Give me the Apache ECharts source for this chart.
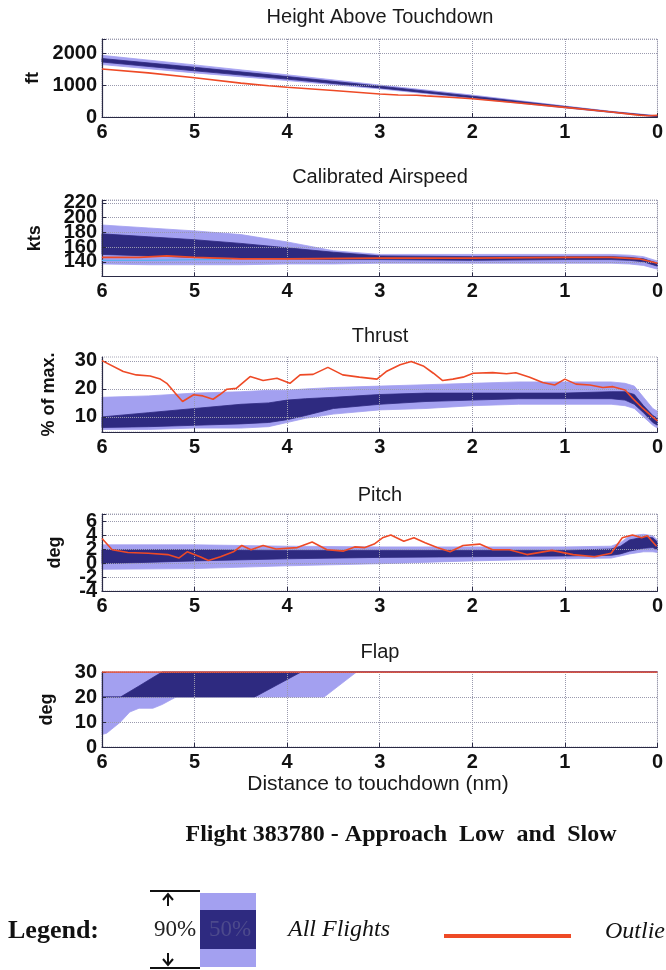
<!DOCTYPE html>
<html><head><meta charset="utf-8">
<script src="https://cdn.jsdelivr.net/npm/echarts@6/dist/echarts.min.js"></script>
<style>html,body{margin:0;padding:0;background:#fff}#c{width:666px;height:970px}</style>
</head><body><div id="c"></div>
<script>
// ---------- data ----------
const xTicks = [6, 5, 4, 3, 2, 1, 0];
const panelTitles = ['Height Above Touchdown', 'Calibrated Airspeed', 'Thrust', 'Pitch', 'Flap'];
const yNames = ['ft', 'kts', '% of max.', 'deg', 'deg'];
const yTickLabels = [[0, 1000, 2000], [140, 160, 180, 200, 220], [10, 20, 30], [-2, 0, 2, 4, 6], [0, 10, 20, 30]];
const pitchExtraLabels = [-4];

// Height Above Touchdown (ft)
const hX    = [6, 5, 4, 3, 2, 1, 0.5, 0];
const h90lo = [1640, 1380, 1140, 880, 580, 285, 140, 0];
const h90hi = [1930, 1630, 1320, 1000, 685, 345, 178, 40];
const h50lo = [1720, 1445, 1185, 910, 605, 300, 150, 10];
const h50hi = [1830, 1555, 1265, 965, 652, 328, 166, 30];
const hOutX = [6, 5.5, 5, 4.5, 4.2, 4, 3.5, 3, 2.8, 2.6, 2.5, 2.2, 2, 1.5, 1, 0.5, 0.2, 0.1, 0];
const hOut  = [1500, 1380, 1230, 1060, 980, 930, 830, 720, 690, 680, 660, 610, 570, 440, 300, 155, 60, 40, 50];

// Calibrated Airspeed (kts)
const aX    = [6, 5.5, 5, 4.5, 4, 3.5, 3, 2, 1, 0.5, 0.3, 0.15, 0];
const a90lo = [137, 136, 136, 136, 137, 137, 138, 138, 138, 138, 137, 135, 130];
const a90hi = [190, 186, 182, 177, 167, 155, 150, 150, 150, 150, 149, 147, 141];
const a50lo = [150, 148, 146, 145, 144, 143, 143, 142, 143, 143, 142, 140, 134];
const a50hi = [178, 174, 170, 165, 159, 153, 148, 147, 147, 147, 146, 144, 138];
const aOutX = [6, 5.6, 5.3, 5, 4.5, 4, 3, 2, 1, 0.5, 0.2, 0];
const aOut  = [146, 146, 148, 146, 144, 144, 145, 145, 146, 146, 144, 138];
const aCyanX = [6, 5.5, 5, 4.6];
const aCyan  = [142, 142, 143, 143];

// Thrust (% of max.)
const tX    = [6, 5.5, 5, 4.5, 4.2, 4, 3.8, 3.5, 3, 2.5, 2, 1.5, 1, 0.5, 0.35, 0.25, 0.15, 0.05, 0];
const t90lo = [5.5, 5.5, 6, 6, 6.5, 8, 9.5, 11, 12.5, 13, 14, 14.5, 14.5, 14.5, 14, 13, 10, 7, 6];
const t90hi = [17, 17.5, 18.5, 19, 19.5, 19.5, 20, 20.5, 21, 21.5, 22, 22.5, 22.5, 22.5, 22, 21, 17, 13, 12];
const t50lo = [6.2, 6.5, 7, 7.5, 8, 9, 10.5, 13, 14.5, 15.5, 16, 16.5, 16.5, 16.5, 16, 14.5, 11.5, 8, 7];
const t50hi = [10, 11.5, 13, 14.5, 15, 16, 16.5, 17, 18, 18.5, 18.5, 18.5, 18.5, 19, 19, 18, 14, 10.5, 9.5];
const tOutX = [6.0, 5.77, 5.63, 5.48, 5.37, 5.30, 5.21, 5.13, 5.01, 4.91, 4.80, 4.73, 4.65, 4.55, 4.40, 4.26, 4.11, 3.97, 3.86, 3.72, 3.56, 3.40, 3.22, 3.03, 2.93, 2.78, 2.66, 2.53, 2.42, 2.32, 2.21, 2.10, 1.99, 1.78, 1.63, 1.53, 1.38, 1.24, 1.11, 1.00, 0.88, 0.73, 0.59, 0.48, 0.35, 0.27, 0.16, 0.05, 0.0];
const tOut  = [30.1, 26.2, 25.0, 24.6, 23.5, 22.0, 18.5, 15.5, 17.9, 17.5, 16.3, 17.9, 19.9, 20.2, 24.4, 23.0, 23.8, 22.0, 25.0, 25.2, 27.7, 25.0, 24.2, 23.5, 26.2, 28.6, 29.8, 28.2, 25.6, 23.0, 23.5, 24.2, 25.6, 25.8, 25.4, 25.8, 24.2, 22.3, 21.4, 23.5, 21.7, 21.4, 20.5, 20.8, 19.6, 16.7, 13.1, 9.9, 8.6];

// Pitch (deg)
const pX    = [6, 5, 4, 3, 2, 1, 0.5, 0.4, 0.3, 0.15, 0.05, 0];
const p90lo = [-0.9, -0.8, -0.4, -0.1, 0.3, 0.6, 0.7, 1.0, 1.3, 1.6, 1.6, 1.5];
const p90hi = [2.6, 2.6, 2.4, 2.3, 2.3, 2.3, 2.4, 2.9, 3.9, 4.1, 3.9, 3.3];
const p50lo = [-0.1, 0.3, 0.6, 0.8, 0.9, 1.0, 1.1, 1.3, 1.7, 2.1, 2.2, 1.9];
const p50hi = [1.9, 1.9, 1.8, 1.8, 1.8, 1.8, 2.0, 2.4, 3.3, 3.7, 3.6, 3.0];
const pOutX = [6.0, 5.89, 5.72, 5.50, 5.29, 5.17, 5.08, 4.94, 4.85, 4.72, 4.58, 4.49, 4.39, 4.26, 4.12, 3.89, 3.73, 3.57, 3.39, 3.27, 3.16, 3.06, 2.97, 2.88, 2.74, 2.63, 2.51, 2.38, 2.24, 2.10, 1.92, 1.78, 1.60, 1.41, 1.14, 0.91, 0.68, 0.50, 0.38, 0.27, 0.17, 0.11, 0.01];
const pOut  = [3.5, 1.9, 1.5, 1.4, 1.2, 0.7, 1.6, 0.9, 0.35, 0.9, 1.6, 2.5, 1.9, 2.5, 2.0, 2.2, 3.0, 1.9, 1.7, 2.3, 2.2, 2.7, 3.6, 4.0, 3.1, 3.6, 2.9, 2.2, 1.6, 2.5, 2.7, 1.9, 1.9, 1.2, 1.8, 1.2, 0.9, 1.4, 3.6, 4.0, 3.6, 3.9, 2.4];

// Flap (deg)
const fX    = [6, 5.95, 5.9, 5.8, 5.7, 5.6, 5.45, 5.35, 5.25, 5.2, 4.35, 3.85, 3.6, 3.25, 0];
const f90lo = [5, 5.5, 7, 10, 14, 15.5, 15.5, 17, 19, 20, 20, 20, 20, 30, 30];
const f90hi = [30, 30, 30, 30, 30, 30, 30, 30, 30, 30, 30, 30, 30, 30, 30];
const f50lo = [20, 20, 20, 20, 20, 20, 20, 20, 20, 20, 20, 30, 30, 30, 30];
const f50hi = [20, 20, 20, 20, 22.2, 24.4, 27.8, 30, 30, 30, 30, 30, 30, 30, 30];
const fOutX = [6, 0];
const fOut  = [30, 30];

// ---------- layout / style ----------
const LIGHT = '#a3a0f0', DARK = '#2e2a80', RED = '#ee4a26', AX = '#2a2a45';
const SANS = 'Liberation Sans', SERIF = 'Liberation Serif';
const gridBoxes = [
  {top: 39, height: 78}, {top: 200, height: 76.5}, {top: 357, height: 75},
  {top: 514, height: 77}, {top: 672, height: 75}
];
const yRanges = [
  {min: 0, max: 2440, interval: 1000},
  {min: 120, max: 224, interval: 20},
  {min: 4.6, max: 31.4, custom: true},
  {min: -4, max: 7, interval: 2},
  {min: 0, max: 30, interval: 10}
];
const nameGaps = [60, 58, 44, 38, 46];
const titleY = [17, 177, 336, 495, 652];

const bands = [
  [hX, h90lo, h90hi, h50lo, h50hi],
  [aX, a90lo, a90hi, a50lo, a50hi],
  [tX, t90lo, t90hi, t50lo, t50hi],
  [pX, p90lo, p90hi, p50lo, p50hi],
  [fX, f90lo, f90hi, f50lo, f50hi]
];
const outliers = [[hOutX, hOut], [aOutX, aOut], [tOutX, tOut], [pOutX, pOut], [fOutX, fOut]];

function pairs(xs, ys) { return xs.map((x, i) => [x, ys[i]]); }

function bandSeries(gi, xs, lo, hi, color, z) {
  return {
    type: 'custom', xAxisIndex: gi, yAxisIndex: gi, z: z, silent: true,
    data: [[xs[0], lo[0]]],
    renderItem: function (params, api) {
      const pts = [];
      for (let i = 0; i < xs.length; i++) pts.push(api.coord([xs[i], hi[i]]));
      for (let i = xs.length - 1; i >= 0; i--) pts.push(api.coord([xs[i], lo[i]]));
      return {type: 'polygon', shape: {points: pts}, style: {fill: color, stroke: color, lineWidth: 0.8}};
    }
  };
}

const labelStyle = {color: '#111', fontFamily: SANS, fontSize: 20, fontWeight: 'bold', margin: 5};
const grid = [], xAxis = [], yAxis = [], series = [];
gridBoxes.forEach((g, i) => {
  grid.push({left: 102, right: 8, top: g.top, height: g.height, show: true,
    borderColor: '#a8a8b8', borderWidth: 1, borderType: 'dotted'});
  xAxis.push({
    type: 'value', gridIndex: i, min: 0, max: 6, interval: 1, inverse: true, z: 4,
    axisLine: {onZero: false, lineStyle: {color: AX, width: 1.2}},
    axisTick: {inside: true, length: 4, lineStyle: {color: AX}},
    axisLabel: Object.assign({}, labelStyle, {formatter: v => xTicks.indexOf(v) >= 0 ? String(v) : ''}),
    splitLine: {show: true, lineStyle: {color: '#9a9aae', type: 'dotted', width: 1}}
  });
  const r = yRanges[i];
  const labs = yTickLabels[i];
  const ya = {
    type: 'value', gridIndex: i, min: r.min, max: r.max, z: 4, position: 'left',
    name: yNames[i], nameLocation: 'middle', nameRotate: 90, nameGap: nameGaps[i],
    nameTextStyle: {color: '#111', fontFamily: SANS, fontSize: 18, fontWeight: 'bold'},
    axisLine: {show: true, onZero: false, lineStyle: {color: AX, width: 1.2}},
    axisTick: {show: true, inside: true, length: 4, lineStyle: {color: AX}},
    axisLabel: Object.assign({}, labelStyle, {formatter: v => labs.indexOf(v) >= 0 ? String(v) : ''}),
    splitLine: {show: true, lineStyle: {color: '#9a9aae', type: 'dotted', width: 1}}
  };
  if (r.custom) {
    ya.axisLabel.customValues = labs;
    ya.axisTick.customValues = labs;
  } else {
    ya.interval = r.interval;
  }
  yAxis.push(ya);
  const b = bands[i];
  series.push(bandSeries(i, b[0], b[1], b[2], LIGHT, 2));
  series.push(bandSeries(i, b[0], b[3], b[4], DARK, 3));
  series.push({type: 'line', xAxisIndex: i, yAxisIndex: i, z: 6, silent: true, symbol: 'none',
    data: pairs(outliers[i][0], outliers[i][1]), lineStyle: {color: RED, width: 1.6}});
});
// extra label-only axis on the pitch panel so the crowded "-4" label is kept
yAxis.push({
  type: 'value', gridIndex: 3, min: -4, max: 7, interval: 2, z: 4, position: 'left',
  axisLine: {show: false, onZero: false}, axisTick: {show: false}, splitLine: {show: false},
  axisLabel: Object.assign({}, labelStyle, {formatter: v => pitchExtraLabels.indexOf(v) >= 0 ? String(v) : ''})
});
series.push({type: 'line', xAxisIndex: 1, yAxisIndex: 1, z: 5, silent: true, symbol: 'none',
  data: pairs(aCyanX, aCyan), lineStyle: {color: '#5aaef0', width: 1.2}});

// ---------- texts & legend graphics ----------
const g = [];
panelTitles.forEach((t, i) => g.push({type: 'text', x: 380, y: titleY[i], z: 10,
  style: {text: t, fill: '#1a1a1a', font: '20px "' + SANS + '"', align: 'center', verticalAlign: 'middle'}}));
g.push({type: 'text', x: 378, y: 784, z: 10,
  style: {text: 'Distance to touchdown (nm)', fill: '#1a1a1a', font: '21px "' + SANS + '"', align: 'center', verticalAlign: 'middle'}});
g.push({type: 'text', x: 401, y: 835, z: 10,
  style: {text: 'Flight 383780 - Approach  Low  and  Slow', fill: '#111', font: 'bold 24px "' + SERIF + '"', align: 'center', verticalAlign: 'middle'}});
g.push({type: 'text', x: 8, y: 931, z: 10,
  style: {text: 'Legend:', fill: '#111', font: 'bold 26px "' + SERIF + '"', align: 'left', verticalAlign: 'middle'}});
g.push({type: 'rect', shape: {x: 200, y: 893, width: 56, height: 74}, style: {fill: LIGHT}, z: 10});
g.push({type: 'rect', shape: {x: 200, y: 910, width: 56, height: 39}, style: {fill: DARK}, z: 11});
g.push({type: 'text', x: 230, y: 930, z: 12,
  style: {text: '50%', fill: '#4d4a8c', font: '23px "' + SERIF + '"', align: 'center', verticalAlign: 'middle'}});
g.push({type: 'text', x: 175, y: 930, z: 12,
  style: {text: '90%', fill: '#222', font: '23px "' + SERIF + '"', align: 'center', verticalAlign: 'middle'}});
g.push({type: 'line', shape: {x1: 150, y1: 891, x2: 200, y2: 891}, style: {stroke: '#111', lineWidth: 2}, z: 12});
g.push({type: 'line', shape: {x1: 150, y1: 968, x2: 200, y2: 968}, style: {stroke: '#111', lineWidth: 2}, z: 12});
g.push({type: 'polyline', shape: {points: [[163, 900], [168, 894], [173, 900]]}, style: {stroke: '#111', lineWidth: 2, fill: null}, z: 12});
g.push({type: 'line', shape: {x1: 168, y1: 894, x2: 168, y2: 906}, style: {stroke: '#111', lineWidth: 2}, z: 12});
g.push({type: 'polyline', shape: {points: [[163, 959], [168, 965], [173, 959]]}, style: {stroke: '#111', lineWidth: 2, fill: null}, z: 12});
g.push({type: 'line', shape: {x1: 168, y1: 953, x2: 168, y2: 965}, style: {stroke: '#111', lineWidth: 2}, z: 12});
g.push({type: 'text', x: 288, y: 930, z: 12,
  style: {text: 'All Flights', fill: '#111', font: 'italic 24px "' + SERIF + '"', align: 'left', verticalAlign: 'middle'}});
g.push({type: 'line', shape: {x1: 444, y1: 936, x2: 571, y2: 936}, style: {stroke: RED, lineWidth: 4}, z: 12});
g.push({type: 'text', x: 605, y: 932, z: 12,
  style: {text: 'Outlier', fill: '#111', font: 'italic 24px "' + SERIF + '"', align: 'left', verticalAlign: 'middle'}});

const chart = echarts.init(document.getElementById('c'), null, {renderer: 'canvas'});
chart.setOption({
  animation: false,
  backgroundColor: '#fff',
  grid: grid, xAxis: xAxis, yAxis: yAxis, series: series,
  graphic: {elements: g}
});
</script></body></html>
